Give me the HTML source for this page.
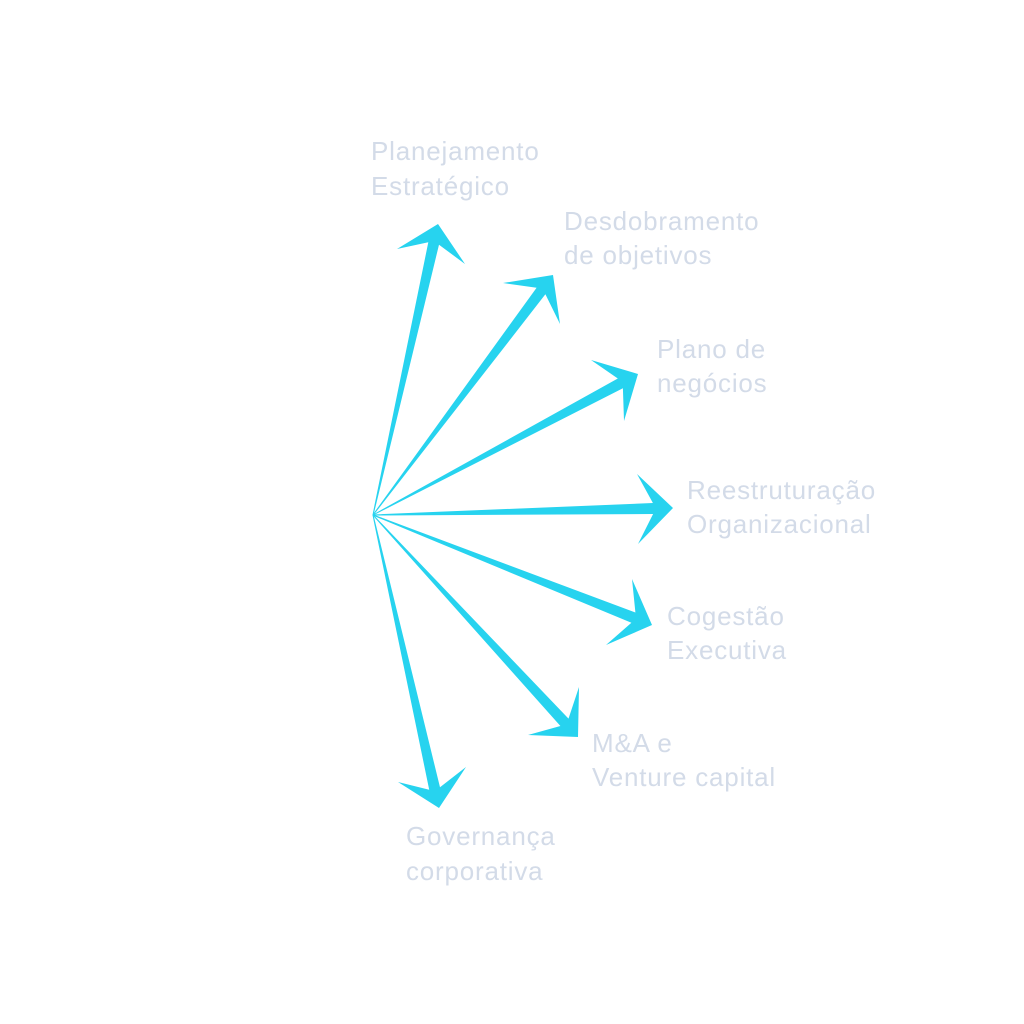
<!DOCTYPE html>
<html><head><meta charset="utf-8"><style>
html,body{margin:0;padding:0;background:#fff;width:1024px;height:1024px;overflow:hidden}
svg{display:block}
text{font-family:"Liberation Sans",sans-serif;font-size:26px;letter-spacing:0.8px;fill:#d3dbe8}
</style></head><body>
<svg id="s" width="1024" height="1024" viewBox="0 0 1024 1024">
<g id="arrows" fill="#27d3ef"></g>
<text x="371" y="160">Planejamento</text><text x="371" y="195">Estratégico</text>
<text x="564" y="230">Desdobramento</text><text x="564" y="264">de objetivos</text>
<text x="657" y="358">Plano de</text><text x="657" y="392">negócios</text>
<text x="687" y="499">Reestruturação</text><text x="687" y="533">Organizacional</text>
<text x="667" y="625">Cogestão</text><text x="667" y="659">Executiva</text>
<text x="592" y="752">M&amp;A e</text><text x="592" y="786">Venture capital</text>
<text x="406" y="845">Governança</text><text x="406" y="880">corporativa</text>
</svg>
<script>
var O=[373,515];
var A=[
[[438,224],[397,249],[465,264]],
[[553,275],[503,283],[560,324]],
[[638,374],[591,360],[624,421]],
[[673,508],[637,474],[638,544]],
[[652,625],[632,579],[606,645]],
[[578,737],[579,687],[528,735]],
[[439,808],[398,782],[466,767]]];
var g=document.getElementById('arrows'),h='';
A.forEach(function(a){
var T=a[0],dx=T[0]-O[0],dy=T[1]-O[1],L=Math.hypot(dx,dy),ux=dx/L,uy=dy/L,px=-uy,py=ux;
var n=20,w=11;
var N=[T[0]-n*ux,T[1]-n*uy];
var s1=[N[0]+px*w/2,N[1]+py*w/2],s2=[N[0]-px*w/2,N[1]-py*w/2];
var b1=a[1],b2=a[2];
if(((b1[0]-T[0])*px+(b1[1]-T[1])*py)<0){var t=b1;b1=b2;b2=t;}
var pts=[[O[0]+px*0.5,O[1]+py*0.5],s1,b1,T,b2,s2,[O[0]-px*0.5,O[1]-py*0.5]];
h+='<polygon points="'+pts.map(function(p){return p[0].toFixed(1)+','+p[1].toFixed(1)}).join(' ')+'"/>';
});
g.innerHTML=h;
</script>
</body></html>
